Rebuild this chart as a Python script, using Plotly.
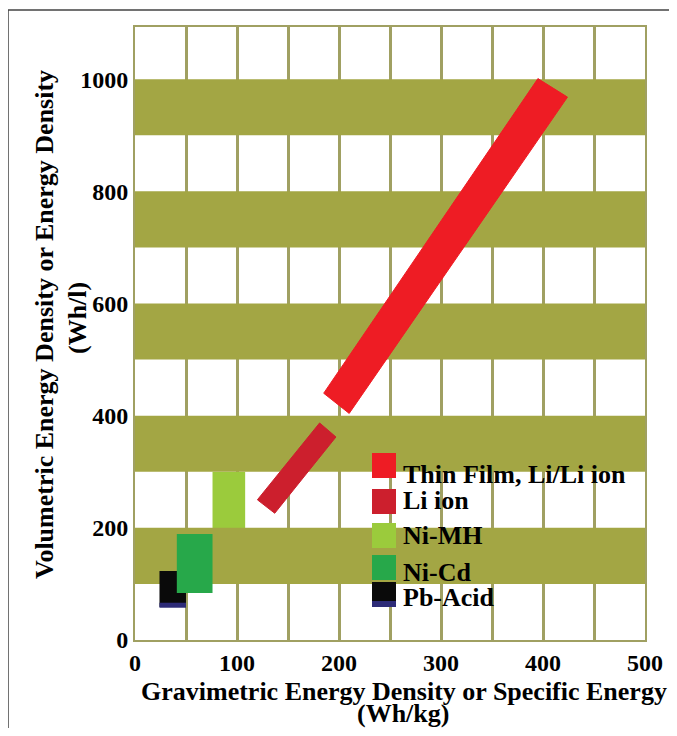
import plotly.graph_objects as go

# ---------------- data ----------------
series_names = ["Thin Film, Li/Li ion", "Li ion", "Ni-MH", "Ni-Cd", "Pb-Acid"]
series_colors = ["#ee1c24", "#cc1f2d", "#9bcb3c", "#27a84a", "#0a0a0a"]

# slanted regions: polygon vertices (Wh/kg, Wh/l)
thin_film_wh_kg = [185, 210, 424, 395]
thin_film_wh_l = [440, 404, 968, 1001]
li_ion_wh_kg = [120, 137, 197, 181]
li_ion_wh_l = [250, 226, 362, 387]

# rectangular regions: [min, max]
ni_mh_wh_kg = [76, 108]
ni_mh_wh_l = [140, 300]
ni_cd_wh_kg = [41, 76]
ni_cd_wh_l = [84, 189]
pb_acid_wh_kg = [24, 50]
pb_acid_wh_l = [59, 123]

x_tick_vals = [0, 100, 200, 300, 400, 500]
x_tick_text = ["0", "100", "200", "300", "400", "500"]
y_tick_vals = [0, 200, 400, 600, 800, 1000]
y_tick_text = ["0", "200", "400", "600", "800", "1000"]
band_ranges = [(100, 200), (300, 400), (500, 600), (700, 800), (900, 1000)]
x_range = [0, 500]
y_range = [0, 1093]

x_title_lines = ["Gravimetric Energy Density or Specific Energy", "(Wh/kg)"]
y_title_lines = ["Volumetric Energy Density or Energy Density", "(Wh/l)"]

# ---------------- styling ----------------
FONT = "Liberation Serif, Times New Roman, serif"
BAND = "#a3a644"
GRID = "#a0a062"
NAVY = "#2d2b77"

OFF = 8                      # default body margin of the html page
W, H = 677 - OFF, 736 - 2 * OFF
L, T = 135 - OFF, 27 - OFF   # plot area left/top (page pixels minus offset)
PR, PB = 645 - OFF, 640 - OFF
R, B = W - PR, H - PB
PW, PH = W - L - R, H - T - B


def ux(px):
    """page pixel x -> paper x"""
    return (px - OFF - L) / PW


def vy(py):
    """page pixel y -> paper y"""
    return (H - B - (py - OFF)) / PH


def rect(xr, yr):
    return [xr[0], xr[1], xr[1], xr[0], xr[0]], [yr[0], yr[0], yr[1], yr[1], yr[0]]


def poly(xs, ys):
    return list(xs) + [xs[0]], list(ys) + [ys[0]]


def filled(xs, ys, color, name=None, lw=0):
    return go.Scatter(x=xs, y=ys, fill="toself", mode="lines",
                      line=dict(width=lw, color=color), fillcolor=color,
                      name=name, showlegend=False, hoverinfo="skip")


fig = go.Figure()

# Ni-MH sits behind the olive bands
fig.add_trace(filled(*rect(ni_mh_wh_kg, ni_mh_wh_l), series_colors[2], series_names[2]))
# olive bands
for y0, y1 in band_ranges:
    fig.add_trace(filled(*rect(x_range, [y0, y1]), BAND))
# Pb-Acid (behind Ni-Cd)
fig.add_trace(filled(*rect(pb_acid_wh_kg, pb_acid_wh_l), series_colors[4], series_names[4]))
fig.add_trace(go.Scatter(x=pb_acid_wh_kg, y=[pb_acid_wh_l[0] + 3] * 2, mode="lines",
                         line=dict(width=5, color=NAVY), showlegend=False,
                         hoverinfo="skip"))
# Ni-Cd
fig.add_trace(filled(*rect(ni_cd_wh_kg, ni_cd_wh_l), series_colors[3], series_names[3]))
# Li ion
fig.add_trace(filled(*poly(li_ion_wh_kg, li_ion_wh_l), series_colors[1], series_names[1], 1))
# Thin film
fig.add_trace(filled(*poly(thin_film_wh_kg, thin_film_wh_l), series_colors[0],
                     series_names[0], 1))

shapes = []
annotations = []

# custom legend
legend_tops = [453, 489, 523, 555, 582]
legend_text_y = [475, 501, 535, 572, 597]
for i, name in enumerate(series_names):
    top = legend_tops[i]
    shapes.append(dict(type="rect", xref="paper", yref="paper",
                       x0=ux(372), x1=ux(396), y0=vy(top + 25), y1=vy(top),
                       fillcolor=series_colors[i], line=dict(width=0), layer="above"))
    annotations.append(dict(xref="paper", yref="paper", x=ux(401), y=vy(legend_text_y[i]),
                            xanchor="left", yanchor="middle", showarrow=False,
                            text=name, font=dict(family=FONT, size=26, color="black",
                                                 weight="bold")))
shapes.append(dict(type="rect", xref="paper", yref="paper",
                   x0=ux(372), x1=ux(396), y0=vy(607), y1=vy(601),
                   fillcolor=NAVY, line=dict(width=0), layer="above"))

# outer frame
shapes.append(dict(type="rect", xref="paper", yref="paper",
                   x0=ux(8), x1=ux(671), y0=vy(760), y1=vy(10),
                   line=dict(width=1.5, color="#444444"), fillcolor="rgba(0,0,0,0)",
                   layer="above"))

# axis titles
title_font = dict(family=FONT, size=26, color="black", weight="bold")
annotations.append(dict(xref="paper", yref="paper", x=ux(404), y=vy(691),
                        xanchor="center", yanchor="middle", showarrow=False,
                        text=x_title_lines[0], font=title_font))
annotations.append(dict(xref="paper", yref="paper", x=ux(403), y=vy(713),
                        xanchor="center", yanchor="middle", showarrow=False,
                        text=x_title_lines[1], font=title_font))
annotations.append(dict(xref="paper", yref="paper", x=ux(44), y=vy(325),
                        xanchor="center", yanchor="middle", showarrow=False, textangle=-90,
                        text=y_title_lines[0], font=title_font))
annotations.append(dict(xref="paper", yref="paper", x=ux(77), y=vy(318),
                        xanchor="center", yanchor="middle", showarrow=False, textangle=-90,
                        text=y_title_lines[1], font=title_font))

tickfont = dict(family=FONT, size=24, color="black", weight="bold")

fig.update_layout(
    width=W, height=H,
    margin=dict(l=L, r=R, t=T, b=B, pad=0),
    paper_bgcolor="white", plot_bgcolor="white",
    showlegend=False,
    shapes=shapes, annotations=annotations,
    xaxis=dict(range=x_range, tickvals=x_tick_vals, ticktext=x_tick_text,
               showgrid=True, gridcolor=GRID, gridwidth=3,
               minor=dict(dtick=50, showgrid=True, gridcolor=GRID, gridwidth=3),
               showline=True, linecolor=GRID, linewidth=2, mirror=True,
               zeroline=False, ticks="", tickfont=tickfont, fixedrange=True),
    yaxis=dict(range=y_range, tickvals=y_tick_vals, ticktext=y_tick_text,
               showgrid=False, showline=True, linecolor=GRID, linewidth=2, mirror=True,
               zeroline=False, ticks="", tickfont=tickfont, fixedrange=True),
)

fig.write_html("out.html")
